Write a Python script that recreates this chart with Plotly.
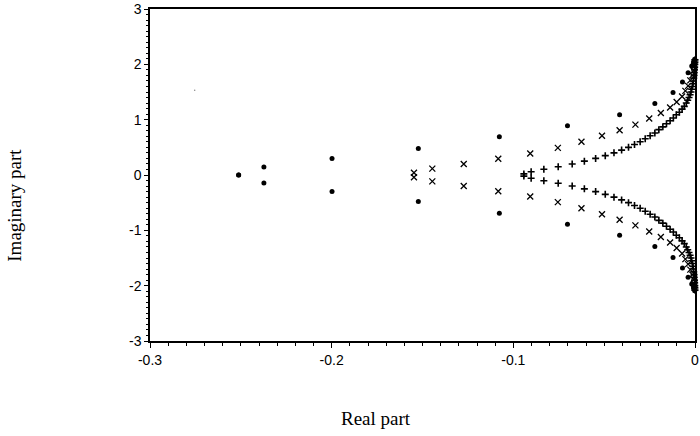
import plotly.graph_objects as go

#%% Data (upper half of each set; eigenvalues come in conjugate pairs)

# coarse set (filled dots)
dots_re = [-0.2512, -0.2373, -0.1998, -0.1523, -0.1077, -0.0702, -0.0415,
           -0.0221, -0.0121, -0.0069, -0.0038, -0.0018, -0.0008, -0.0002]
dots_im = [0.0, 0.145, 0.30, 0.48, 0.69, 0.89, 1.09,
           1.29, 1.49, 1.68, 1.85, 1.97, 2.04, 2.09]

# medium set (x marks)
xs_re = [-0.1547, -0.1446, -0.1273, -0.1083, -0.0907, -0.0755, -0.0625,
         -0.0512, -0.0415, -0.0328, -0.0252, -0.0188, -0.0137, -0.0101,
         -0.0071, -0.0053, -0.0038, -0.0026, -0.0015, -0.0008, -0.0004, -0.0001]
xs_im = [0.04, 0.115, 0.20, 0.295, 0.39, 0.49, 0.60,
         0.71, 0.81, 0.91, 1.02, 1.12, 1.22, 1.32,
         1.42, 1.52, 1.61, 1.71, 1.80, 1.89, 1.97, 2.04]

# fine set (+ marks)
plus_re = [-0.0942, -0.0902, -0.0832, -0.0753, -0.0676, -0.0609, -0.0547,
           -0.0494, -0.0446, -0.0404, -0.0366, -0.0333, -0.0302, -0.0274,
           -0.0247, -0.0221, -0.0199, -0.0177, -0.0157, -0.0137, -0.0119,
           -0.0103, -0.0086, -0.0071, -0.0059, -0.0048, -0.0040, -0.0033,
           -0.0027, -0.0022, -0.0018, -0.0014, -0.0011, -0.0009, -0.0007,
           -0.0005, -0.0004, -0.0003, -0.0002, -0.0001, -0.00005, 0.0]
plus_im = [0.02, 0.06, 0.105, 0.15, 0.20, 0.25, 0.30,
           0.35, 0.40, 0.45, 0.50, 0.55, 0.60, 0.655,
           0.71, 0.76, 0.82, 0.87, 0.925, 0.98, 1.03,
           1.09, 1.135, 1.19, 1.24, 1.30, 1.35, 1.40,
           1.45, 1.50, 1.55, 1.60, 1.65, 1.70, 1.75,
           1.80, 1.85, 1.90, 1.95, 2.00, 2.04, 2.08]

# stray speck in the upper left
speck_re = [-0.2754]
speck_im = [1.53]


#%% mirror to the lower half plane

def conj(re, im):
    return re + re, im + [-v for v in im]


#%% Figure

fig = go.Figure()

r, i = conj(dots_re, dots_im)
fig.add_trace(go.Scatter(x=r, y=i, mode='markers', cliponaxis=False,
                         marker=dict(symbol='circle', size=5, color='black')))

r, i = conj(xs_re, xs_im)
fig.add_trace(go.Scatter(x=r, y=i, mode='markers', cliponaxis=False,
                         marker=dict(symbol='x-thin-open', size=6, color='black',
                                     line=dict(width=1.3, color='black'))))

r, i = conj(plus_re, plus_im)
fig.add_trace(go.Scatter(x=r, y=i, mode='markers', cliponaxis=False,
                         marker=dict(symbol='cross-thin-open', size=5, color='black',
                                     line=dict(width=1.6, color='black'))))

fig.add_trace(go.Scatter(x=speck_re, y=speck_im, mode='markers',
                         marker=dict(size=1.5, color='#888888')))

axis_common = dict(showline=True, linecolor='black', linewidth=1.5, mirror=True,
                   showgrid=False, zeroline=False, ticks='outside',
                   tickcolor='black', tickwidth=1, automargin=False,
                   tickfont=dict(family='Liberation Sans', size=14, color='black'))

fig.update_xaxes(range=[-0.3, 0], tickmode='array',
                 tickvals=[-0.3, -0.2, -0.1, 0], ticktext=['-0.3', '-0.2', '-0.1', '0'],
                 ticklen=5,
                 minor=dict(dtick=0.01, tick0=0, ticks='outside', ticklen=3,
                            tickcolor='black', showgrid=False),
                 **axis_common)
fig.update_yaxes(range=[-3, 3], tickmode='array',
                 tickvals=[-3, -2, -1, 0, 1, 2, 3],
                 ticktext=['-3', '-2', '-1', '0', '1', '2', '3'],
                 ticklen=4,
                 minor=dict(dtick=0.1, tick0=0, ticks='outside', ticklen=2,
                            tickcolor='black', showgrid=False),
                 **axis_common)

title_font = dict(family='Liberation Serif', size=19, color='black')
fig.add_annotation(text='Real part', xref='paper', yref='paper',
                   x=0.414, y=-0.232, xanchor='center', yanchor='middle',
                   showarrow=False, font=title_font)
fig.add_annotation(text='Imaginary part', xref='paper', yref='paper',
                   x=-0.248, y=0.41, xanchor='center', yanchor='middle',
                   showarrow=False, textangle=-90, font=title_font)

fig.update_layout(width=700, height=436, showlegend=False,
                  plot_bgcolor='white', paper_bgcolor='white',
                  margin=dict(l=150, r=5, t=9, b=95))

# page has a default 8px body margin; drop it so the figure sits at the corner
fig.write_html("out.html", config={'displayModeBar': False},
               post_script="document.body.style.margin='0';")
